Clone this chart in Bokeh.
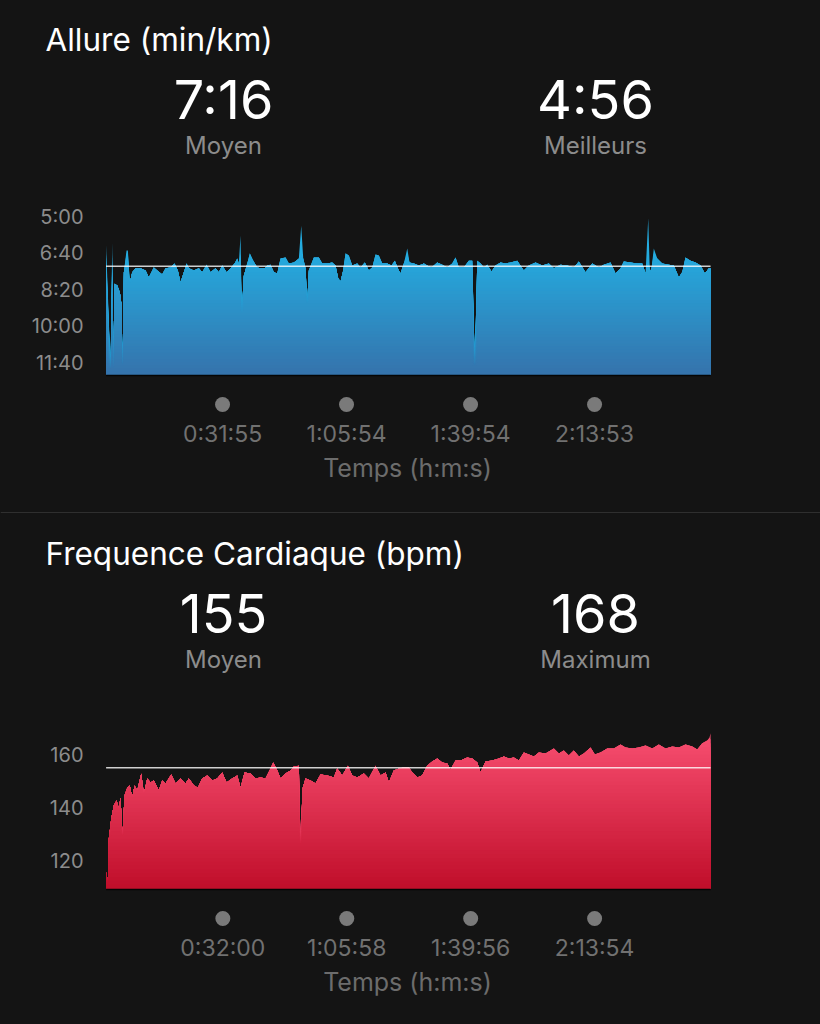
import numpy as np
from bokeh.plotting import figure
from bokeh.layouts import column
from bokeh.models import Range1d, Span
from bokeh.core.properties import value
from bokeh.embed import file_html
from bokeh.resources import INLINE

# ---------------- data ----------------
# Allure: elapsed time (s) and pace (s per km)
pace_time = [0, 73, 101, 117, 139, 183, 226, 249, 270, 292,
             336, 358, 390, 430, 484, 566, 649, 703, 785, 841,
             923, 978, 1060, 1126, 1180, 1224, 1279, 1323, 1361, 1443,
             1525, 1581, 1652, 1718, 1800, 1854, 1910, 1981, 2047, 2113,
             2157, 2183, 2211, 2232, 2265, 2321, 2364, 2420, 2486, 2540,
             2606, 2650, 2704, 2759, 2815, 2869, 2951, 3005, 3088, 3170,
             3209, 3242, 3280, 3308, 3334, 3417, 3499, 3555, 3637, 3719,
             3773, 3818, 3856, 3893, 3938, 3992, 4048, 4130, 4184, 4255,
             4321, 4377, 4431, 4486, 4541, 4624, 4694, 4749, 4814, 4842,
             4897, 4953, 4990, 5061, 5143, 5226, 5281, 5352, 5446, 5528,
             5610, 5693, 5747, 5801, 5883, 5966, 6022, 6064, 6104, 6158,
             6212, 6268, 6339, 6405, 6487, 6569, 6651, 6762, 6870, 6953,
             7063, 7173, 7281, 7364, 7474, 7584, 7692, 7775, 7885, 7995,
             8104, 8186, 8296, 8378, 8461, 8515, 8625, 8735, 8817, 8872,
             8916, 8942, 8970, 9008, 9064, 9146, 9255, 9337, 9419, 9475,
             9529, 9612, 9694, 9777, 9847, 9913, 9941]
pace_value = [379, 716, 371, 716, 484, 489, 508, 536, 708, 453,
              393, 393, 481, 453, 442, 442, 448, 467, 440, 448,
              459, 442, 440, 429, 448, 481, 453, 429, 442, 448,
              442, 453, 432, 453, 442, 453, 434, 453, 442, 429,
              415, 429, 352, 563, 462, 429, 401, 421, 440, 442,
              442, 434, 432, 453, 456, 415, 412, 429, 426, 415,
              325, 415, 442, 536, 448, 412, 412, 429, 429, 426,
              434, 470, 478, 453, 401, 407, 434, 429, 440, 426,
              448, 440, 404, 407, 429, 429, 434, 421, 448, 456,
              429, 388, 426, 429, 434, 429, 434, 440, 426, 432,
              440, 429, 412, 440, 440, 421, 421, 708, 421, 429,
              440, 432, 451, 434, 426, 429, 426, 421, 448, 434,
              426, 434, 429, 442, 432, 434, 440, 423, 453, 429,
              440, 432, 426, 456, 442, 423, 426, 429, 429, 456,
              305, 453, 442, 388, 415, 429, 432, 434, 467, 453,
              412, 421, 426, 434, 456, 442, 442]

# Frequence cardiaque: elapsed time (s) and heart rate (bpm)
hr_time = [0, 29, 45, 85, 127, 172, 210, 237, 270, 303,
           348, 390, 430, 468, 512, 578, 621, 677, 731, 785,
           867, 923, 978, 1071, 1142, 1224, 1306, 1361, 1443, 1509,
           1581, 1663, 1746, 1828, 1910, 1981, 2074, 2157, 2211, 2277,
           2375, 2458, 2540, 2622, 2704, 2749, 2815, 2869, 2951, 3033,
           3088, 3170, 3198, 3231, 3280, 3362, 3444, 3527, 3637, 3745,
           3801, 3884, 3976, 4048, 4130, 4239, 4321, 4431, 4513, 4596,
           4650, 4732, 4814, 4897, 4979, 5035, 5117, 5199, 5281, 5364,
           5446, 5528, 5610, 5665, 5747, 5829, 5939, 6022, 6104, 6158,
           6240, 6350, 6459, 6541, 6623, 6706, 6788, 6870, 6953, 7035,
           7117, 7227, 7364, 7446, 7528, 7610, 7692, 7775, 7857, 7967,
           8038, 8132, 8242, 8350, 8460, 8543, 8653, 8761, 8872, 8982,
           9090, 9200, 9311, 9419, 9529, 9640, 9722, 9804, 9886, 9924,
           9941]
hr_value = [115.6, 111.8, 128.3, 135.8, 140.8, 142.6, 139.6, 143.8, 129.4, 144.5,
            147.5, 148.3, 143.8, 148.3, 146.4, 152.8, 145.3, 150.9, 149.4, 150.2,
            146.4, 150.2, 149.1, 152.5, 149.1, 150.9, 149.1, 150.9, 148.3, 147.5,
            150.9, 152.1, 150.2, 150.9, 153.2, 149.4, 150.9, 152.1, 147.5, 153.2,
            152.8, 150.9, 151.3, 150.9, 154.7, 157.0, 154.0, 150.9, 152.8, 154.0,
            155.5, 155.8, 126.4, 147.2, 150.9, 150.2, 149.1, 152.5, 152.1, 151.3,
            154.7, 152.1, 155.8, 152.1, 151.3, 152.8, 150.9, 155.8, 152.1, 153.2,
            149.4, 154.0, 154.7, 155.1, 155.1, 153.2, 151.3, 152.1, 155.8, 157.4,
            158.5, 157.0, 156.6, 154.3, 157.7, 157.7, 158.9, 158.5, 157.0, 153.2,
            157.4, 157.7, 158.5, 159.2, 158.5, 158.9, 157.7, 160.8, 160.0, 159.2,
            160.8, 160.4, 162.3, 160.4, 161.5, 159.6, 161.5, 159.2, 160.4, 162.6,
            160.0, 160.8, 162.3, 162.3, 163.8, 162.6, 162.3, 162.6, 163.4, 162.3,
            163.8, 162.3, 163.0, 162.6, 163.8, 163.0, 161.9, 164.2, 165.3, 166.4,
            168.0]

pace_yticks = [300, 400, 500, 600, 700]          # s/km
pace_xticks = [1915, 3954, 5994, 8033]           # s
hr_yticks = [120, 140, 160]                      # bpm
hr_xticks = [1920, 3958, 5996, 8034]             # s
pace_avg, pace_best = 436, 296                   # s/km
hr_avg, hr_max = 155, 168                        # bpm


def mmss(s):
    s = int(s)
    return f"{s // 60}:{s % 60:02d}"


def hms(s):
    s = int(s)
    return f"{s // 3600}:{(s % 3600) // 60:02d}:{s % 60:02d}"


# ---------------- style / layout ----------------
BG = "#141414"
FONT = value("Inter")
W = 820
PAGE_LEFT = 0
X_ZERO = 105.6       # page px of t = 0
T_PER_PX = 16.446    # seconds per px


def hexcol(c):
    return "#%02x%02x%02x" % tuple(int(round(x)) for x in c)


def make_panel(title, stats, yticks, yfmt, xticks, t, v, avg,
               ref_a, ref_b, base_px, grad_px, c_top, c_bot,
               fig_top, height, offset, separator=False):
    (va, ya), (vb, yb) = ref_a, ref_b
    k = (vb - va) / (yb - ya)

    def Y(py):
        return va + (py - ya) * k

    def X(px):
        return (px - X_ZERO) * T_PER_PX

    top_local = fig_top - offset
    p = figure(width=W, height=height, output_backend="svg", toolbar_location=None,
               x_range=Range1d(X(PAGE_LEFT), X(PAGE_LEFT + W)),
               y_range=Range1d(Y(top_local + height), Y(top_local)),
               min_border=0, background_fill_color=BG, border_fill_color=BG,
               outline_line_color=None, x_axis_type=None, y_axis_type=None)

    t = np.asarray(t, float)
    v = np.asarray(v, float)
    n = min(len(t), len(v))
    t, v = t[:n], v[:n]
    base = Y(base_px)
    g0 = Y(grad_px)
    c0, c1 = np.array(c_top, float), np.array(c_bot, float)
    N = 40
    down_is_bigger = base > g0
    for i in range(N):
        level = g0 + (base - g0) * i / N
        if i == 0:
            top = v
        else:
            top = np.maximum(v, level) if down_is_bigger else np.minimum(v, level)
        f = min(1.0, (i + 0.5) / N) if i > 0 else 0.0
        col = hexcol(c0 + (c1 - c0) * f)
        p.varea(x=t, y1=np.full(n, base), y2=top, fill_color=col)

    # thin dark edge under the area
    p.segment(x0=[t[0]], x1=[t[-1]], y0=[Y(base_px + 1)], y1=[Y(base_px + 1)],
              line_color="#050505", line_width=1.5)

    # average line
    p.segment(x0=[t[0]], x1=[t[-1]], y0=[avg], y1=[avg],
              line_color="white", line_alpha=0.8, line_width=1.5)

    # title
    p.text(x=[X(45)], y=[Y(38.8)], text=[title], text_font=FONT, text_font_size="31.5px",
           text_color="white", text_align="left", text_baseline="middle")
    # stats
    for cx, num, lab in stats:
        p.text(x=[X(cx)], y=[Y(99)], text=[num], text_font=FONT, text_font_size="54px",
               text_color="white", text_align="center", text_baseline="middle")
        p.text(x=[X(cx)], y=[Y(145)], text=[lab], text_font=FONT, text_font_size="24px",
               text_color="#8c8c8c", text_align="center", text_baseline="middle")

    # y tick labels
    p.text(x=[X(83)] * len(yticks), y=yticks, text=[yfmt(s) for s in yticks],
           text_font=FONT, text_font_size="20px", text_color="#8c8c8c",
           text_align="right", text_baseline="middle")

    # x ticks: dots + labels
    p.scatter(x=xticks, y=[Y(404)] * len(xticks), size=15, fill_color="#7a7a7a",
              line_color=None)
    p.text(x=xticks, y=[Y(433)] * len(xticks), text=[hms(s) for s in xticks],
           text_font=FONT, text_font_size="23px", text_color="#717171",
           text_align="center", text_baseline="middle")
    p.text(x=[X(407)], y=[Y(467)], text=["Temps (h:m:s)"], text_font=FONT,
           text_font_size="25px", text_color="#6c6c6c", text_align="center",
           text_baseline="middle")

    if separator:
        p.add_layout(Span(location=Y(512.5), dimension="width", line_color="#4a4a4a",
                          line_width=1))
    return p


p1 = make_panel("Allure (min/km)",
                [(223, mmss(pace_avg), "Moyen"), (595, mmss(pace_best), "Meilleurs")],
                pace_yticks, mmss, pace_xticks, pace_time, pace_value, pace_avg,
                (300, 216), (700, 362), 374, 250,
                (36, 172, 224), (53, 115, 172),
                fig_top=0, height=513, offset=0, separator=True)

p2 = make_panel("Frequence Cardiaque (bpm)",
                [(223, str(hr_avg), "Moyen"), (595, str(hr_max), "Maximum")],
                hr_yticks, lambda s: str(s), hr_xticks, hr_time, hr_value, hr_avg,
                (160, 240), (120, 346), 374, 221,
                (247, 78, 112), (192, 14, 42),
                fig_top=513, height=511, offset=514)

layout = column(p1, p2, spacing=0)
html = file_html(layout, INLINE, title="Allure / Frequence Cardiaque")
html = html.replace("<head>", "<head><style>html,body{background:#141414;}</style>", 1)
open("out.html", "w").write(html)
